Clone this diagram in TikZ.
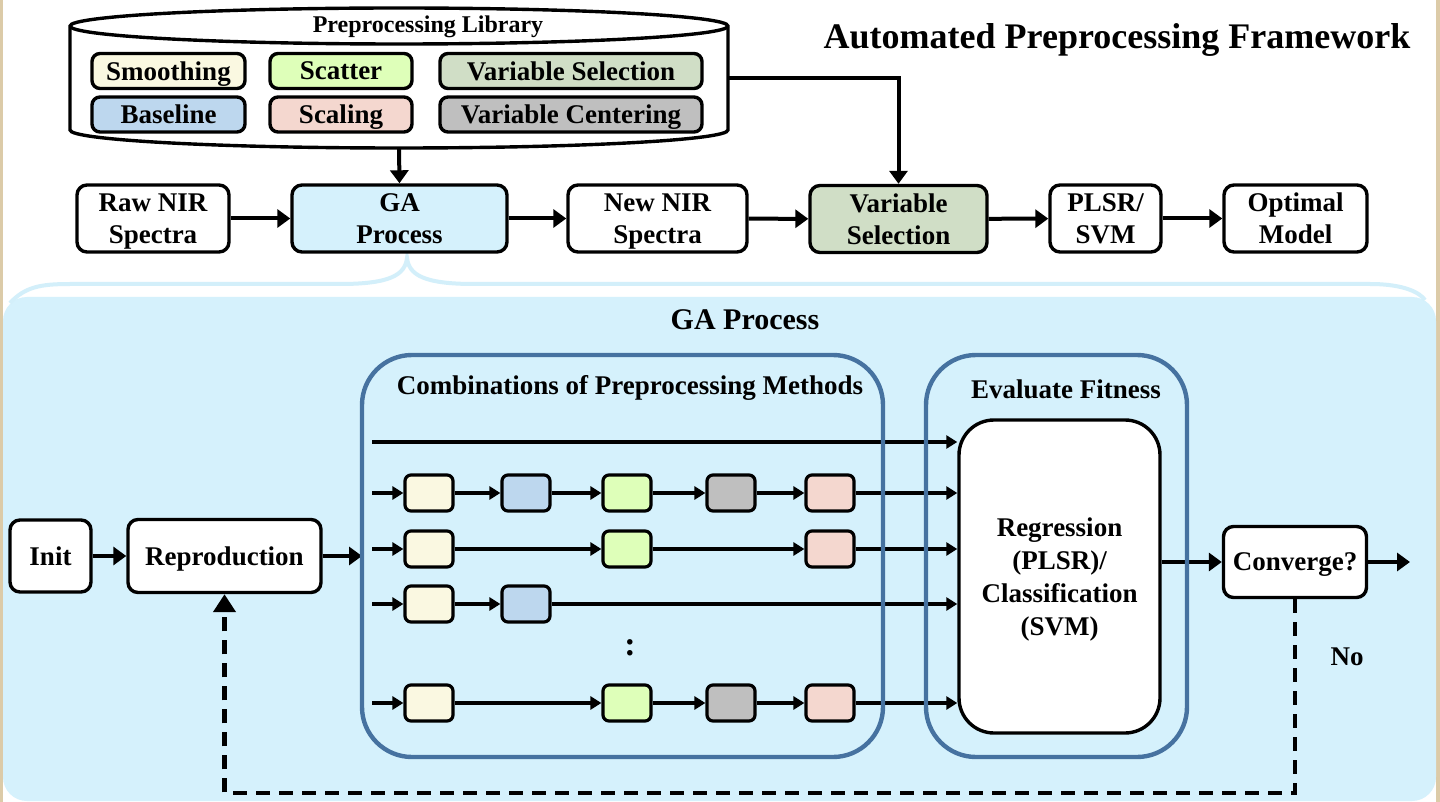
\documentclass[tikz,border=0pt]{standalone}
\usepackage{fontspec}
\setmainfont{Liberation Serif}
\usetikzlibrary{arrows.meta}
\definecolor{edgecol}{HTML}{DCCBA8}
\definecolor{gacol}{HTML}{D5F1FC}
\definecolor{bracecol}{HTML}{D3EFFA}
\definecolor{framecol}{HTML}{4672A0}
\definecolor{smoothcol}{HTML}{FAF8E1}
\definecolor{scattercol}{HTML}{DEFFB9}
\definecolor{varselcol}{HTML}{D0DEC6}
\definecolor{basecol}{HTML}{BDD7EE}
\definecolor{scalecol}{HTML}{F4D7CF}
\definecolor{centercol}{HTML}{BFBFBF}
\begin{document}
\begin{tikzpicture}[x=0.5pt, y=-0.5pt,
    every node/.style={font=\fontsize{13.5}{16}\selectfont\bfseries},
    box/.style={rectangle, draw, line width=1.7pt, rounded corners=5pt, inner sep=0pt, align=center, fill=white, text depth=0pt},
    libbox/.style={box, minimum height=17.5pt, rounded corners=4pt},
    mini/.style={rectangle, draw, line width=1.6pt, rounded corners=3pt, minimum width=24pt, minimum height=18pt, inner sep=0pt},
    frame/.style={rectangle, draw=framecol, line width=2.2pt, rounded corners=25pt, minimum height=201pt, inner sep=0pt},
    arrow/.style={-{Triangle[length=6.5pt,width=9pt]}, line width=2pt},
    smallarrow/.style={-{Triangle[length=5.5pt,width=6.5pt]}, line width=1.7pt},
    loopline/.style={-{Triangle[length=9pt,width=11pt]}, line width=2.2pt, dash pattern=on 7pt off 4.5pt}
]
\fill[edgecol] (0,0) rectangle (1440,802);
\fill[white] (3,0) rectangle (1436,802);
\useasboundingbox (0,0) rectangle (1440,802);

\fill[gacol, rounded corners=12pt] (3,297) rectangle (1436,801);
\draw[bracecol, line width=2pt] (10,303) .. controls (25,287) and (40,284) .. (70,284) -- (340,284)
    .. controls (390,284) and (405,275) .. (407,258) .. controls (409,275) and (424,284) .. (474,284)
    -- (1370,284) .. controls (1405,284) and (1420,293) .. (1425,300);

\node[minimum width=329pt, minimum height=70pt, inner sep=0pt] (lib) at (399,78) {};
\draw[line width=1.7pt, fill=white] (70,26) -- (70,130) arc[start angle=180, end angle=360, x radius=164.5pt, y radius=9pt]
    -- (728,26) arc[start angle=0, end angle=180, x radius=164.5pt, y radius=9pt] -- cycle;
\draw[line width=1.7pt] (70,26) arc[start angle=180, end angle=360, x radius=164.5pt, y radius=9pt];
\node[font=\fontsize{12}{14}\selectfont\bfseries] (libtitle) at (428,27) {Preprocessing Library};

\node[libbox, fill=smoothcol, minimum width=76.5pt] (smooth) at (168.5,71) {Smoothing};
\node[libbox, fill=scattercol, minimum width=71pt] (scatter) at (341,71) {Scatter};
\node[libbox, fill=varselcol, minimum width=131pt] (varsel) at (571,71) {Variable Selection};
\node[libbox, fill=basecol, minimum width=76.5pt] (base) at (168.5,114.5) {Baseline};
\node[libbox, fill=scalecol, minimum width=71pt] (scale) at (341,114.5) {Scaling};
\node[libbox, fill=centercol, minimum width=131pt] (center) at (571,114.5) {Variable Centering};

\node[font=\fontsize{18}{20}\selectfont\bfseries] (title) at (1117,40) {Automated Preprocessing Framework};

\node[box, minimum width=76pt, minimum height=33.5pt] (raw) at (153,218.5) {Raw NIR\\Spectra};
\node[box, fill=gacol, minimum width=107.5pt, minimum height=33.5pt] (ga) at (399.5,218.5) {GA\\Process};
\node[box, minimum width=89.5pt, minimum height=33.5pt] (new) at (657.5,218.5) {New NIR\\Spectra};
\node[box, fill=varselcol, minimum width=88.5pt, minimum height=33.5pt] (vsel) at (898.5,219) {Variable\\Selection};
\node[box, minimum width=55.5pt, minimum height=33.5pt] (plsr) at (1105.5,218.5) {PLSR/\\SVM};
\node[box, minimum width=71.5pt, minimum height=33.5pt] (opt) at (1295.5,218.5) {Optimal\\Model};

\draw[arrow] (lib.south) -- (ga.north);
\draw[arrow] (lib.east) -| (vsel.north);
\draw[arrow] (raw) -- (ga);
\draw[arrow] (ga) -- (new);
\draw[arrow] (new) -- (vsel);
\draw[arrow] (vsel) -- (plsr);
\draw[arrow] (plsr) -- (opt);

\node[font=\fontsize{15}{17}\selectfont\bfseries] (gatitle) at (745,320) {GA Process};

\node[box, minimum width=40.5pt, minimum height=36pt] (init) at (50.5,556) {Init};
\node[box, minimum width=96.5pt, minimum height=36.5pt] (repro) at (224.5,556) {Reproduction};
\node[box, minimum width=100.5pt, minimum height=156.5pt, rounded corners=17.5pt, font=\fontsize{13.5}{16.5}\selectfont\bfseries] (reg) at (1059.5,576.5) {Regression\\(PLSR)/\\Classification\\(SVM)};
\node[box, minimum width=71.5pt, minimum height=35.5pt] (conv) at (1295,562) {Converge?};

\coordinate (in0) at (372,442);
\coordinate (in1) at (372,493);
\coordinate (in2) at (372,549);
\coordinate (in3) at (372,604);
\coordinate (in4) at (372,703);

\node[mini, fill=smoothcol] (r1a) at (429,493) {};
\node[mini, fill=basecol] (r1b) at (526,493) {};
\node[mini, fill=scattercol] (r1c) at (627,493) {};
\node[mini, fill=centercol] (r1d) at (731,493) {};
\node[mini, fill=scalecol] (r1e) at (830,493) {};

\node[mini, fill=smoothcol] (r2a) at (429,549) {};
\node[mini, fill=scattercol] (r2c) at (627,549) {};
\node[mini, fill=scalecol] (r2e) at (830,549) {};

\node[mini, fill=smoothcol] (r3a) at (429,604) {};
\node[mini, fill=basecol] (r3b) at (526,604) {};

\node[font=\fontsize{17}{17}\selectfont\bfseries] (dots) at (630,648) {:};

\node[mini, fill=smoothcol] (r4a) at (429,703) {};
\node[mini, fill=scattercol] (r4c) at (627,703) {};
\node[mini, fill=centercol] (r4d) at (731,703) {};
\node[mini, fill=scalecol] (r4e) at (830,703) {};

\draw[smallarrow] (in0) -- (in0 -| reg.west);
\draw[smallarrow] (in1) -- (r1a);
\draw[smallarrow] (r1a) -- (r1b);
\draw[smallarrow] (r1b) -- (r1c);
\draw[smallarrow] (r1c) -- (r1d);
\draw[smallarrow] (r1d) -- (r1e);
\draw[smallarrow] (r1e) -- (r1e -| reg.west);
\draw[smallarrow] (in2) -- (r2a);
\draw[smallarrow] (r2a) -- (r2c);
\draw[smallarrow] (r2c) -- (r2e);
\draw[smallarrow] (r2e) -- (r2e -| reg.west);
\draw[smallarrow] (in3) -- (r3a);
\draw[smallarrow] (r3a) -- (r3b);
\draw[smallarrow] (r3b) -- (r3b -| reg.west);
\draw[smallarrow] (in4) -- (r4a);
\draw[smallarrow] (r4a) -- (r4c);
\draw[smallarrow] (r4c) -- (r4d);
\draw[smallarrow] (r4d) -- (r4e);
\draw[smallarrow] (r4e) -- (r4e -| reg.west);

\draw[arrow] (init) -- (repro);
\coordinate (combin) at (362,556);
\draw[arrow] (repro) -- (combin);
\draw[arrow] (conv.west -| reg.east) -- (conv.west);
\coordinate (done) at (1410,562);
\draw[arrow] (conv) -- (done);

\node[frame, minimum width=260.5pt] (comb) at (622.5,556) {};
\node[frame, minimum width=130.5pt] (eval) at (1056.5,556) {};
\node (combtitle) at (630,388) {Combinations of Preprocessing Methods};
\node (evaltitle) at (1066,389) {Evaluate Fitness};

\coordinate (loop) at (1295,793);
\draw[loopline] (conv.south) -- (loop) -| (repro.south);
\node (no) at (1347,657) {No};
\end{tikzpicture}
\end{document}
